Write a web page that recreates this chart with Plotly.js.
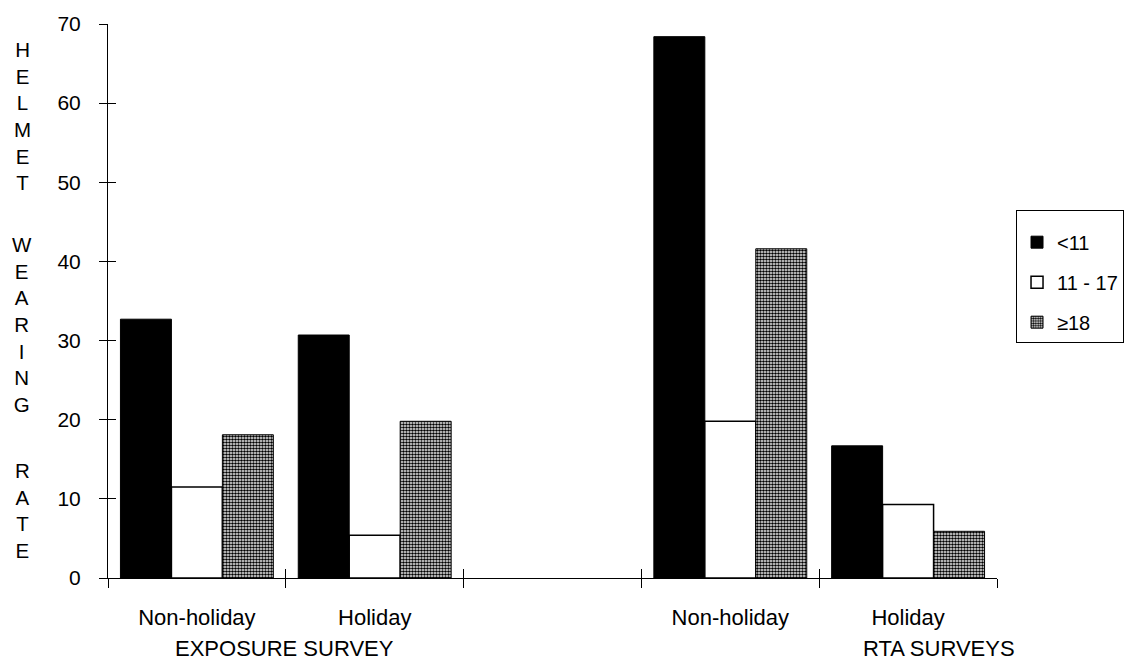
<!DOCTYPE html>
<html>
<head>
<meta charset="utf-8">
<script src="https://cdn.plot.ly/plotly-3.0.1.min.js"></script>
<style>html,body{margin:0;padding:0;background:#fff;}#chart{width:1147px;height:666px;}</style>
</head>
<body>
<div id="chart"></div>
<script>
// Category positions (index 2 is the empty gap between the two surveys)
const categoryPositions = [0, 1, 3, 4];
const categoryLabels = ["Non-holiday", "Holiday", "Non-holiday", "Holiday"];
const boundaryPositions = [-0.5, 0.5, 1.5, 2.5, 3.5, 4.5];

const seriesNames = ["<11", "11 - 17", "\u226518"];
const under11 = [32.7, 30.7, 68.4, 16.7];
const age11to17 = [11.5, 5.4, 19.8, 9.3];
const age18plus = [18.1, 19.8, 41.6, 5.9];

const yTicks = [0, 10, 20, 30, 40, 50, 60, 70];

const FONT = '"Liberation Sans", Arial, Helvetica, sans-serif';

const traces = [
  {
    type: 'bar', name: seriesNames[0], x: categoryPositions, y: under11,
    marker: {color: '#000000', line: {color: '#000000', width: 1}},
    legendgroup: 'a'
  },
  {
    type: 'bar', name: seriesNames[1], x: categoryPositions, y: age11to17,
    marker: {color: '#ffffff', line: {color: '#000000', width: 1.5}},
    legendgroup: 'b'
  },
  {
    type: 'bar', name: seriesNames[2], x: categoryPositions, y: age18plus,
    marker: {
      color: '#ffffff',
      line: {color: '#000000', width: 1},
      pattern: {shape: '.', fgcolor: '#000000', bgcolor: '#ffffff', size: 3, solidity: 0.6}
    },
    legendgroup: 'c'
  },
  // empty helper traces so the overlaid tick-only axes get drawn
  {type: 'scatter', mode: 'markers', x: [], y: [], xaxis: 'x2', yaxis: 'y2', showlegend: false, hoverinfo: 'skip'},
  {type: 'scatter', mode: 'markers', x: [], y: [], xaxis: 'x3', yaxis: 'y2', showlegend: false, hoverinfo: 'skip'}
];

const layout = {
  width: 1147, height: 666,
  margin: {l: 108, r: 150, t: 24, b: 88},
  paper_bgcolor: '#ffffff', plot_bgcolor: '#ffffff',
  font: {family: FONT, color: '#000000', size: 21},
  barmode: 'group', bargap: 0.14, bargroupgap: 0,
  showlegend: true,
  legend: {
    x: 1.0214, xanchor: 'left', y: 0.6643, yanchor: 'top',
    bordercolor: '#000000', borderwidth: 1, bgcolor: '#ffffff',
    font: {family: FONT, size: 20, color: '#000000'},
    traceorder: 'grouped', tracegroupgap: 11, entrywidth: 100,
    title: {text: ' ', font: {size: 9}}
  },
  xaxis: {
    range: [-0.5, 4.5], tickmode: 'array', tickvals: categoryPositions, ticktext: categoryLabels,
    ticks: '', showgrid: false, zeroline: false, showline: true, linecolor: '#000000', linewidth: 1,
    tickfont: {family: FONT, size: 22, color: '#000000'}, ticklabelstandoff: 20, fixedrange: true
  },
  xaxis2: {
    overlaying: 'x', anchor: 'y2', side: 'bottom', range: [-0.5, 4.5], tickmode: 'array', tickvals: boundaryPositions,
    ticks: 'outside', ticklen: 9, tickwidth: 1, tickcolor: '#000000', showticklabels: false,
    showgrid: false, zeroline: false, showline: false
  },
  xaxis3: {
    overlaying: 'x', anchor: 'y2', side: 'bottom', range: [-0.5, 4.5], tickmode: 'array', tickvals: boundaryPositions,
    ticks: 'inside', ticklen: 9, tickwidth: 1, tickcolor: '#000000', showticklabels: false,
    showgrid: false, zeroline: false, showline: false
  },
  yaxis: {
    range: [0, 70], tickmode: 'array', tickvals: yTicks,
    ticks: 'outside', ticklen: 8, tickwidth: 1, tickcolor: '#000000',
    showgrid: false, zeroline: false, showline: true, linecolor: '#000000', linewidth: 1,
    tickfont: {family: FONT, size: 21, color: '#000000'}, ticklabelstandoff: 14, fixedrange: true
  },
  yaxis2: {
    overlaying: 'y', anchor: 'x2', side: 'left', range: [0, 70], tickmode: 'array', tickvals: yTicks,
    ticks: 'inside', ticklen: 8, tickwidth: 1, tickcolor: '#000000', showticklabels: false,
    showgrid: false, zeroline: false, showline: false
  },
  annotations: [
    {text: 'H<br>E<br>L<br>M<br>E<br>T', xref: 'paper', yref: 'paper', x: -0.0967, y: 0.8334,
     xanchor: 'center', yanchor: 'middle', showarrow: false, font: {family: FONT, size: 20.5, color: '#000000'}},
    {text: 'W<br>E<br>A<br>R<br>I<br>N<br>G', xref: 'paper', yref: 'paper', x: -0.0967, y: 0.4567,
     xanchor: 'center', yanchor: 'middle', showarrow: false, font: {family: FONT, size: 20.5, color: '#000000'}},
    {text: 'R<br>A<br>T<br>E', xref: 'paper', yref: 'paper', x: -0.0967, y: 0.121,
     xanchor: 'center', yanchor: 'middle', showarrow: false, font: {family: FONT, size: 20.5, color: '#000000'}},
    {text: 'EXPOSURE SURVEY', xref: 'paper', yref: 'paper', x: 0.1985, y: -0.1264,
     xanchor: 'center', yanchor: 'middle', showarrow: false, font: {family: FONT, size: 22, color: '#000000'}},
    {text: 'RTA SURVEYS', xref: 'paper', yref: 'paper', x: 0.9348, y: -0.1264,
     xanchor: 'center', yanchor: 'middle', showarrow: false, font: {family: FONT, size: 22, color: '#000000'}}
  ]
};

Plotly.newPlot('chart', traces, layout, {staticPlot: true, displayModeBar: false});
</script>
</body>
</html>
